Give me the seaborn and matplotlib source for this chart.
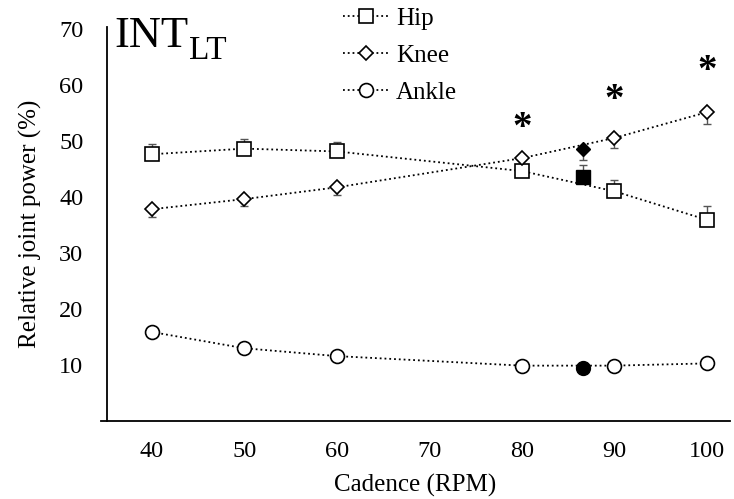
import pandas as pd
import seaborn as sns
import matplotlib.pyplot as plt

# cadence (RPM) and relative joint power (%)
cadence = [40, 50, 60, 80, 90, 100]
hip = [47.6, 48.6, 48.1, 44.6, 41.0, 35.9]
knee = [37.8, 39.6, 41.7, 46.9, 50.5, 55.1]
ankle = [15.9, 13.0, 11.6, 9.9, 9.9, 10.3]
hip_sd = [1.8, 1.8, 1.7, 0.0, 2.0, 2.5]
knee_sd = [1.4, 1.3, 1.4, 0.0, 1.7, 2.1]

# lactate threshold cadence (filled markers)
lt_cadence = [86.6]
lt_hip = [43.5]
lt_knee = [48.6]
lt_ankle = [9.5]
lt_hip_sd = [2.2]
lt_knee_sd = [2.1]

star_x = [80, 90, 100]
star_y = [54.0, 59.0, 64.0]

joints = ['Hip', 'Knee', 'Ankle']
markers = {'Hip': 's', 'Knee': 'D', 'Ankle': 'o'}
sizes = {'Hip': 9.5, 'Knee': 7.5, 'Ankle': 10}

sns.set_style('white')
plt.rcParams['font.family'] = ['Liberation Serif', 'DejaVu Serif']
plt.rcParams.update({'text.color': 'black', 'axes.labelcolor': 'black',
                     'xtick.color': 'black', 'ytick.color': 'black'})

data = pd.DataFrame({'cadence': cadence * 3,
                     'power': hip + knee + ankle,
                     'joint': ['Hip'] * 6 + ['Knee'] * 6 + ['Ankle'] * 6})

fig = plt.figure(figsize=(7.34, 4.99), dpi=100)
ax = fig.add_axes([0.1376, 0.156, 0.857, 0.79])

# error bars: hip upward, knee downward
eb = dict(fmt='none', ecolor='#555555', elinewidth=1, capsize=3, capthick=1, zorder=1)
ax.errorbar(cadence, hip, yerr=[[0] * 6, hip_sd], **eb)
ax.errorbar(cadence, knee, yerr=[knee_sd, [0] * 6], **eb)
ax.errorbar(lt_cadence, lt_hip, yerr=[[0], lt_hip_sd], **eb)
ax.errorbar(lt_cadence, lt_knee, yerr=[lt_knee_sd, [0]], **eb)

for j in joints:
    sub = data[data.joint == j]
    sns.lineplot(data=sub, x='cadence', y='power', ax=ax, color='black',
                 linestyle=':', linewidth=1.3, marker=markers[j], markersize=sizes[j],
                 markerfacecolor='white', markeredgecolor='black', markeredgewidth=1.2,
                 label=j, zorder=3)

lt = pd.DataFrame({'cadence': lt_cadence * 3, 'power': lt_hip + lt_knee + lt_ankle,
                   'joint': joints})
for j in joints:
    sub = lt[lt.joint == j]
    ax.plot(sub.cadence, sub.power, linestyle='none', marker=markers[j], markersize=sizes[j],
            color='black', zorder=4)

for x, y in zip(star_x, star_y):
    ax.annotate('*', (x, y), xytext=(0, -7), textcoords='offset points',
                fontsize=28, fontweight='bold', ha='center', va='center')

ax.set_xlim(34.5, 102.5)
ax.set_ylim(0, 70.3)
ax.set_xticks([40, 50, 60, 70, 80, 90, 100])
ax.set_yticks([10, 20, 30, 40, 50, 60, 70])
ax.tick_params(axis='y', labelsize=17.5, length=0, pad=17)
ax.tick_params(axis='x', labelsize=17.5, length=0, pad=14)
ax.set_xlabel('Cadence (RPM)', fontsize=18, labelpad=9)
ax.set_ylabel('Relative joint power (%)', fontsize=18, labelpad=12)
for s in ['top', 'right']:
    ax.spines[s].set_visible(False)
for s in ['left', 'bottom']:
    ax.spines[s].set_color('black')
    ax.spines[s].set_linewidth(1.3)
ax.spines['left'].set_position(('data', 35.15))

ax.get_legend().remove()
handles, labels = ax.get_legend_handles_labels()
fig.legend(handles, labels, loc='upper left', bbox_to_anchor=(0.437, 1.03),
           frameon=False, fontsize=18, handlelength=1.85, handletextpad=0.25,
           labelspacing=0.58)

fig.text(0.156, 0.905, 'INT', fontsize=32)
fig.text(0.257, 0.882, 'LT', fontsize=24)

fig.savefig('out.png', dpi=100)
